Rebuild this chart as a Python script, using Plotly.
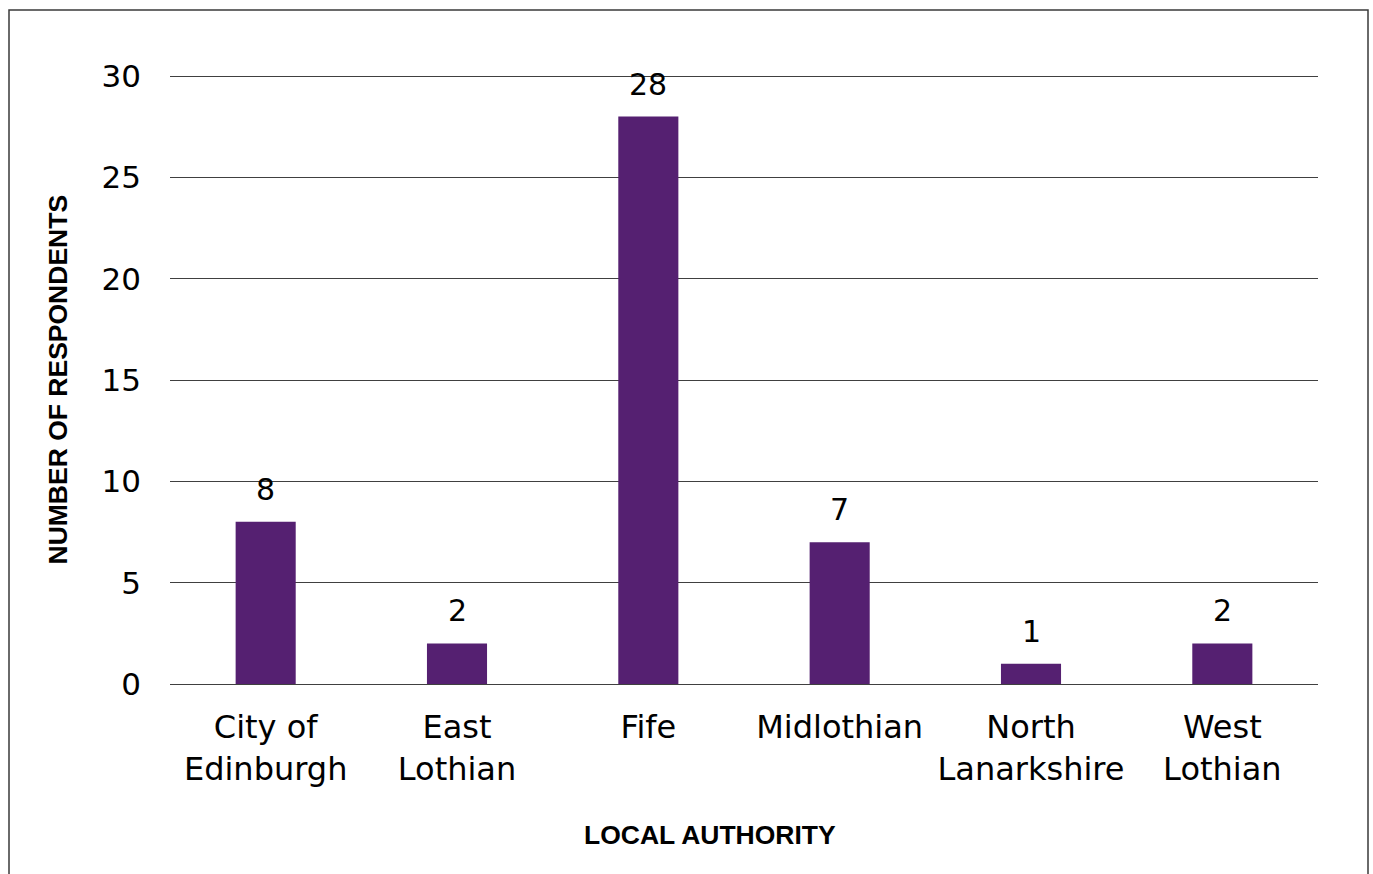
import plotly.graph_objects as go

# Respondents per local authority
authorities = ["City of<br>Edinburgh", "East<br>Lothian", "Fife", "Midlothian", "North<br>Lanarkshire", "West<br>Lothian"]
respondents = [8, 2, 28, 7, 1, 2]
y_ticks = [0, 5, 10, 15, 20, 25, 30]

BAR_COLOR = "#552071"
GRID_COLOR = "#404040"
BODY_FONT = "DejaVu Sans, Verdana, sans-serif"
TITLE_FONT = "Liberation Sans, Arial, sans-serif"

fig = go.Figure(
    go.Bar(
        x=authorities,
        y=respondents,
        marker=dict(color=BAR_COLOR, line=dict(width=0)),
        hoverinfo="x+y",
    )
)

# Value labels above each bar
for name, val in zip(authorities, respondents):
    fig.add_annotation(
        x=name, y=val, xref="x", yref="y",
        text=str(val), showarrow=False,
        yanchor="bottom", yshift=13,
        font=dict(family=BODY_FONT, size=30, color="#000000"),
    )

# Axis titles
fig.add_annotation(
    x=(710 - 170) / 1148, y=(684 - 835) / 608, xref="paper", yref="paper",
    text="<b>LOCAL AUTHORITY</b>", showarrow=False,
    xanchor="center", yanchor="middle",
    font=dict(family=TITLE_FONT, size=26.5, color="#000000"),
)
fig.add_annotation(
    x=(57 - 170) / 1148, y=(684 - 380) / 608, xref="paper", yref="paper",
    text="<b>NUMBER OF RESPONDENTS</b>", showarrow=False, textangle=-90,
    xanchor="center", yanchor="middle",
    font=dict(family=TITLE_FONT, size=26.5, color="#000000"),
)

# Chart frame
fig.add_shape(
    type="rect", xref="paper", yref="paper",
    x0=(9 - 170) / 1148, x1=(1368 - 170) / 1148,
    y0=(684 - 900) / 609, y1=(684 - 10) / 609,
    line=dict(color="#3a3a3a", width=1.5), fillcolor="rgba(0,0,0,0)",
    layer="below",
)

fig.update_layout(
    width=1373, height=874,
    margin=dict(l=170, r=55, t=75, b=190),
    paper_bgcolor="white", plot_bgcolor="white",
    bargap=0.686,
    showlegend=False,
    font=dict(family=BODY_FONT, color="#000000"),
    xaxis=dict(
        showgrid=False, showline=False, zeroline=False,
        ticks="", tickfont=dict(family=BODY_FONT, size=32, color="#000000"),
        ticklabelstandoff=21,
    ),
    yaxis=dict(
        range=[0, 30.05], tickvals=y_ticks,
        showgrid=True, gridcolor=GRID_COLOR, gridwidth=1,
        zeroline=True, zerolinecolor=GRID_COLOR, zerolinewidth=1,
        showline=False, ticks="",
        tickfont=dict(family=BODY_FONT, size=31, color="#000000"),
        ticklabelstandoff=28,
    ),
)

fig.write_html("out.html")
